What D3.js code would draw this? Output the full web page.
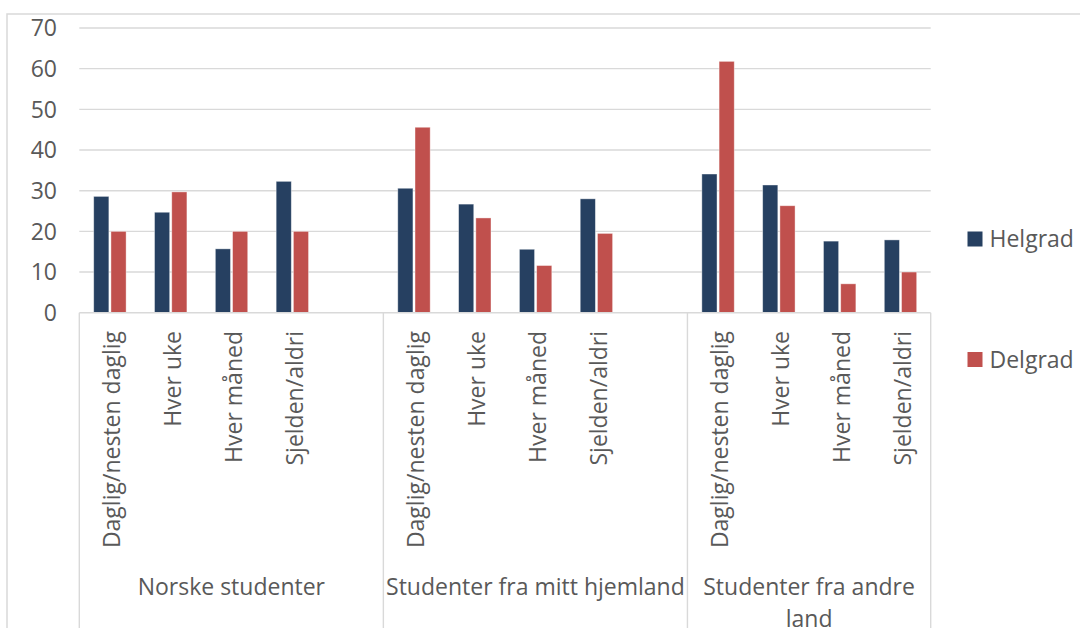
<!DOCTYPE html>
<html>
<head>
<meta charset="utf-8">
<script src="https://cdn.jsdelivr.net/npm/d3@7"></script>
<style>
  html, body { margin: 0; padding: 0; background: #ffffff; }
  svg { display: block; font-family: "Open Sans", sans-serif; }
</style>
</head>
<body>
<svg id="chart" width="1080" height="628"></svg>
<script>
// ---- data ----
const groups = ["Norske studenter", "Studenter fra mitt hjemland", "Studenter fra andre land"];
// category slots, as in the source sheet (empty row between groups)
const slotGroup = [0, 0, 0, 0, 0, 1, 1, 1, 1, 1, 2, 2, 2, 2];
const slotLabel = ["Daglig/nesten daglig", "Hver uke", "Hver måned", "Sjelden/aldri", "",
                   "Daglig/nesten daglig", "Hver uke", "Hver måned", "Sjelden/aldri", "",
                   "Daglig/nesten daglig", "Hver uke", "Hver måned", "Sjelden/aldri"];
const seriesNames = ["Helgrad", "Delgrad"];
const helgrad = [28.6, 24.7, 15.7, 32.3, null, 30.6, 26.7, 15.6, 28.0, null, 34.1, 31.4, 17.6, 17.9];
const delgrad = [20.0, 29.7, 20.0, 20.0, null, 45.6, 23.3, 11.6, 19.5, null, 61.8, 26.3, 7.1, 10.0];
const yTicks = [0, 10, 20, 30, 40, 50, 60, 70];

// ---- styles ----
const colors = ["#264061", "#C0504D"];
const textColor = "#595959";
const gridColor = "#D9D9D9";
const fontSize = 23;

const svg = d3.select("#chart");
const plot = { left: 79.3, right: 930.7, top: 28, bottom: 312.7 };

// outer chart border
svg.append("path")
  .attr("d", "M7,640 L7,14 L1090,14")
  .attr("fill", "none").attr("stroke", gridColor).attr("stroke-width", 1.5);

const slots = d3.range(slotLabel.length);
const x = d3.scaleBand().domain(slots).range([plot.left, plot.right]).padding(0);
const y = d3.scaleLinear().domain([0, 70]).range([plot.bottom, plot.top]);
const xs = d3.scaleBand().domain(seriesNames).range([-16, 16.4]).paddingInner(0.12);

// gridlines
svg.append("g").selectAll("line").data(yTicks.filter(d => d > 0)).join("line")
  .attr("x1", plot.left).attr("x2", plot.right)
  .attr("y1", d => y(d)).attr("y2", d => y(d))
  .attr("stroke", gridColor).attr("stroke-width", 1.4);

// y axis labels
const yAxis = d3.axisLeft(y).tickValues(yTicks).tickSize(0).tickPadding(0);
const yg = svg.append("g").attr("transform", "translate(57,0)").call(yAxis);
yg.select(".domain").remove();
yg.selectAll("text").attr("fill", textColor).attr("font-size", fontSize)
  .attr("font-family", "'Open Sans', sans-serif").attr("dy", "0.34em");

// bars
const seriesData = [helgrad, delgrad];
seriesData.forEach((vals, si) => {
  svg.append("g").selectAll("rect")
    .data(slots.filter(i => vals[i] != null))
    .join("rect")
    .attr("x", i => x(i) + x.bandwidth() / 2 + xs(seriesNames[si]))
    .attr("width", xs.bandwidth())
    .attr("y", i => y(vals[i]))
    .attr("height", i => y(0) - y(vals[i]))
    .attr("fill", colors[si])
    .attr("stroke", "#ffffff").attr("stroke-opacity", 0.5).attr("stroke-width", 0.8);
});

// category axis line
svg.append("line")
  .attr("x1", plot.left).attr("x2", plot.right)
  .attr("y1", plot.bottom).attr("y2", plot.bottom)
  .attr("stroke", gridColor).attr("stroke-width", 1.4);

// group boundaries
const groupBounds = groups.map((g, gi) => {
  const idx = slots.filter(i => slotGroup[i] === gi);
  return { name: g, x0: x(idx[0]), x1: x(idx[idx.length - 1]) + x.bandwidth() };
});
const boundaryXs = [groupBounds[0].x0].concat(groupBounds.map(b => b.x1));
svg.append("g").selectAll("line").data(boundaryXs).join("line")
  .attr("x1", d => d).attr("x2", d => d)
  .attr("y1", plot.bottom).attr("y2", 640)
  .attr("stroke", gridColor).attr("stroke-width", 1.4);

// sub-category labels (rotated)
svg.append("g").selectAll("text")
  .data(slots.filter(i => slotLabel[i] !== ""))
  .join("text")
  .attr("transform", i => `translate(${x(i) + x.bandwidth() / 2},331) rotate(-90)`)
  .attr("text-anchor", "end")
  .attr("dy", "0.45em")
  .attr("fill", textColor).attr("font-size", fontSize)
  .text(i => slotLabel[i]);

// group labels (wrapped)
groupBounds.forEach(b => {
  const cx = (b.x0 + b.x1) / 2;
  const maxW = b.x1 - b.x0 - 2;
  const t = svg.append("text").attr("text-anchor", "middle")
    .attr("fill", textColor).attr("font-size", fontSize);
  const words = b.name.split(" ");
  let line = [];
  let lineNo = 0;
  let tspan = t.append("tspan").attr("x", cx).attr("y", 595);
  words.forEach(w => {
    line.push(w);
    tspan.text(line.join(" "));
    if (tspan.node().getComputedTextLength() > maxW && line.length > 1) {
      line.pop();
      tspan.text(line.join(" "));
      line = [w];
      lineNo++;
      tspan = t.append("tspan").attr("x", cx).attr("y", 595 + lineNo * 31.5).text(w);
    }
  });
});

// legend
const legendY = d3.scalePoint().domain(seriesNames).range([239, 359.5]);
const lg = svg.append("g").selectAll("g").data(seriesNames).join("g")
  .attr("transform", d => `translate(967.5,${legendY(d)})`);
lg.append("rect").attr("x", 0).attr("y", -7.5).attr("width", 15).attr("height", 15)
  .attr("fill", (d, i) => colors[i]);
lg.append("text").attr("x", 22).attr("dy", "0.35em")
  .attr("fill", textColor).attr("font-size", fontSize).text(d => d);
</script>
</body>
</html>
